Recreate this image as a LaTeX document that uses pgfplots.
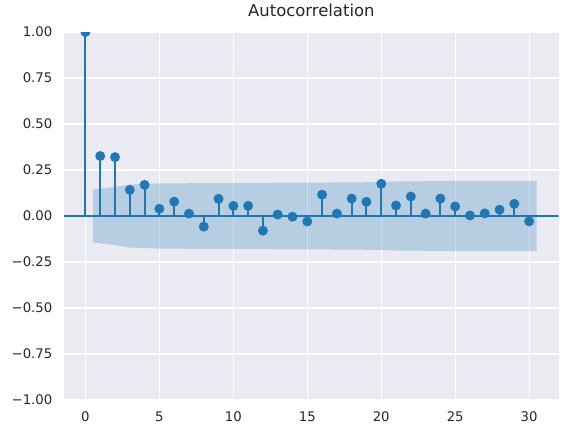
\documentclass[border=0pt]{standalone}
\usepackage{fontspec}
\setmainfont{DejaVu Sans}
\usepackage{pgfplots}
\pgfplotsset{compat=1.18}
\definecolor{bgc}{HTML}{EAEAF2}
\definecolor{mplblue}{HTML}{1F77B4}
\definecolor{txt}{HTML}{262626}
\begin{document}
\begin{tikzpicture}
\begin{axis}[
  at={(0,0)}, anchor=south west,
  scale only axis, width=494.7bp, height=368bp,
  xmin=-1.45, xmax=32, ymin=-1, ymax=1,
  axis background/.style={fill=bgc},
  axis line style={draw=none},
  major tick length=0pt,
  grid=major, major grid style={white, line width=1.1bp},
  xtick={0,5,10,15,20,25,30},
  ytick={-1,-0.75,-0.5,-0.25,0,0.25,0.5,0.75,1},
  yticklabels={−1.00,−0.75,−0.50,−0.25,0.00,0.25,0.50,0.75,1.00},
  /pgf/number format/assume math mode=true,
  tick label style={font=\fontsize{13.3}{16}\selectfont, text=txt, inner sep=0pt},
  yticklabel style={anchor=east, xshift=-11.5bp},
  xticklabel style={anchor=north, yshift=-11.5bp},
  title={Autocorrelation},
  title style={at={(0.5,1)}, anchor=base, yshift=9.5bp, inner sep=0pt, font=\fontsize{16.5}{19}\selectfont, text=txt},
  clip marker paths=true,
]
% stems
\addplot[ycomb, mplblue, line width=2bp, mark=*, mark size=3.9bp, mark options={fill=mplblue, draw=mplblue}] coordinates {
(0,1) (1,0.326) (2,0.320) (3,0.142) (4,0.169) (5,0.039) (6,0.078) (7,0.013)
(8,-0.058) (9,0.093) (10,0.055) (11,0.055) (12,-0.080) (13,0.008) (14,-0.004)
(15,-0.030) (16,0.116) (17,0.013) (18,0.095) (19,0.077) (20,0.175) (21,0.057)
(22,0.106) (23,0.013) (24,0.095) (25,0.052) (26,0.003) (27,0.014) (28,0.034)
(29,0.066) (30,-0.029)
};
% zero line
\addplot[mplblue, line width=2bp] coordinates {(-1.45,0) (32,0)};
% confidence band
\addplot[fill=mplblue, fill opacity=0.25, draw=none] coordinates {
(0.5,0.1440) (2,0.1586) (3,0.1714) (4,0.1739) (5,0.1772) (6,0.1774) (7,0.1781)
(8,0.1782) (9,0.1785) (10,0.1795) (11,0.1799) (12,0.1802) (13,0.1810) (14,0.1810)
(15,0.1810) (16,0.1811) (17,0.1826) (18,0.1826) (19,0.1837) (20,0.1843) (21,0.1877)
(22,0.1881) (23,0.1893) (24,0.1893) (25,0.1903) (26,0.1906) (27,0.1906) (28,0.1906)
(29,0.1908) (30.5,0.1913)
(30.5,-0.1913) (29,-0.1908) (28,-0.1906) (27,-0.1906) (26,-0.1906) (25,-0.1903)
(24,-0.1893) (23,-0.1893) (22,-0.1881) (21,-0.1877) (20,-0.1843) (19,-0.1837)
(18,-0.1826) (17,-0.1826) (16,-0.1811) (15,-0.1810) (14,-0.1810) (13,-0.1810)
(12,-0.1802) (11,-0.1799) (10,-0.1795) (9,-0.1785) (8,-0.1782) (7,-0.1781)
(6,-0.1774) (5,-0.1772) (4,-0.1739) (3,-0.1714) (2,-0.1586) (0.5,-0.1440)
} -- cycle;
\end{axis}
\fill[white] (0bp,368bp) rectangle (494.7bp,375bp);
\useasboundingbox (-64bp,-34bp) rectangle (504bp,400bp);
\end{tikzpicture}
\end{document}
